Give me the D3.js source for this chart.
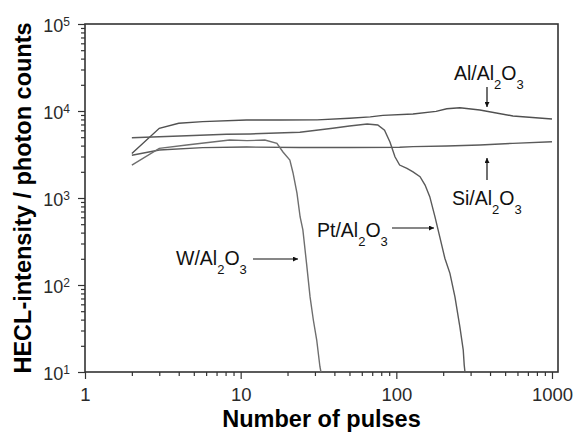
<!DOCTYPE html>
<html>
<head>
<meta charset="utf-8">
<script src="https://cdn.jsdelivr.net/npm/d3@7"></script>
<style>
  body { margin: 0; background: #fff; }
  svg { font-family: "Liberation Sans", Arial, sans-serif; }
</style>
</head>
<body>
<svg id="chart"></svg>
<script>
// tick values
const xTicks = [1, 10, 100, 1000];
const yTicks = [10, 100, 1000, 10000, 100000];

// Al/Al2O3
const alPulses = [2, 3, 4, 5.7, 10.9, 18, 31, 50, 68, 82, 128, 180, 211, 256, 344, 561, 1000];
const alCounts = [3250, 6330, 7230, 7540, 7880, 7880, 7900, 8260, 8550, 8900, 9240, 9900, 10600, 10900, 10260, 8770, 8090];

// Si/Al2O3
const siPulses = [2, 3, 5.7, 10.9, 24, 50, 105, 128, 211, 344, 561, 1000];
const siCounts = [3100, 3560, 3790, 3850, 3800, 3800, 3830, 3890, 3960, 4070, 4250, 4440];

// Pt/Al2O3
const ptPulses = [2, 4.5, 8.1, 11.5, 24, 39, 50, 65, 76, 84, 91, 98, 105, 117, 128, 142, 153, 164, 177, 190, 205, 221, 238, 256, 269, 273, 276];
const ptCounts = [4930, 5200, 5400, 5450, 5690, 6330, 6730, 7090, 6900, 6000, 4400, 2980, 2390, 2190, 2000, 1760, 1410, 1035, 610, 359, 203, 136, 73, 33, 18, 12, 10];

// W/Al2O3
const wPulses = [2, 3, 4.5, 8.5, 11, 14.3, 17.1, 18.7, 20.7, 21.7, 23, 24.1, 25.1, 26.5, 27.9, 29.3, 30.8, 32.3, 32.8];
const wCounts = [2390, 3720, 4070, 4640, 4560, 4640, 4250, 3380, 2730, 1940, 1140, 605, 429, 177, 73.5, 39.6, 23.3, 11.5, 10];

const margin = { top: 24, right: 16, bottom: 63, left: 85 },
  width = 574 - margin.left - margin.right,
  height = 435 - margin.top - margin.bottom;

const svg = d3.select("#chart")
  .attr("width", width + margin.left + margin.right)
  .attr("height", height + margin.top + margin.bottom);

const g = svg.append("g")
  .attr("transform", `translate(${margin.left},${margin.top})`);

const xScale = d3.scaleLog().domain([1, 1093]).range([0, width]);
const yScale = d3.scaleLog().domain([10, 1e5]).range([height, 0]);

const isPow10 = (v) => Math.abs(Math.log10(v) - Math.round(Math.log10(v))) < 1e-9;
const xMinor = xScale.ticks().filter((v) => !isPow10(v));
const yMinor = yScale.ticks().filter((v) => !isPow10(v));

const axisColor = "#333";

// minor ticks
g.append("g")
  .attr("transform", `translate(0,${height})`)
  .call(d3.axisBottom(xScale).tickValues(xMinor).tickSize(4).tickFormat(""));
g.append("g")
  .call(d3.axisLeft(yScale).tickValues(yMinor).tickSize(4).tickFormat(""));

// major ticks
const xAxis = g.append("g")
  .attr("transform", `translate(0,${height})`)
  .call(d3.axisBottom(xScale).tickValues(xTicks).tickSize(7).tickPadding(9).tickFormat(d3.format("d")));

const yAxis = g.append("g")
  .call(d3.axisLeft(yScale).tickValues(yTicks).tickSize(7).tickPadding(8).tickFormat(""));

yAxis.selectAll(".tick text")
  .attr("dy", "0.44em")
  .each(function(d) {
    const t = d3.select(this);
    t.append("tspan").text("10");
    t.append("tspan").attr("dy", "-0.5em").attr("font-size", 12).text(Math.round(Math.log10(d)));
  });

g.selectAll(".domain").remove();
g.selectAll(".tick line").attr("stroke", axisColor).attr("stroke-width", 1.2);
g.selectAll(".tick text")
  .attr("font-size", 18.5)
  .attr("fill", "#2a2a2a")
  .attr("font-family", "Liberation Sans, Arial, sans-serif");
yAxis.selectAll(".tick text").attr("font-size", 18);

// frame
g.append("rect")
  .attr("width", width)
  .attr("height", height)
  .attr("fill", "none")
  .attr("stroke", axisColor)
  .attr("stroke-width", 1.6);

// curves
const line = d3.line()
  .x((d) => xScale(d[0]))
  .y((d) => yScale(d[1]));

const series = [
  { pulses: alPulses, counts: alCounts, color: "#505050" },
  { pulses: siPulses, counts: siCounts, color: "#5a5a5a" },
  { pulses: ptPulses, counts: ptCounts, color: "#5a5a5a" },
  { pulses: wPulses, counts: wCounts, color: "#6e6e6e" }
];

g.selectAll("path.curve")
  .data(series)
  .join("path")
  .attr("class", "curve")
  .attr("d", (s) => line(s.pulses.map((p, i) => [p, s.counts[i]])))
  .attr("fill", "none")
  .attr("stroke", (s) => s.color)
  .attr("stroke-width", 1.4);

// axis titles
svg.append("text")
  .attr("x", margin.left + width / 2)
  .attr("y", 427)
  .attr("text-anchor", "middle")
  .attr("font-size", 23.5)
  .attr("font-weight", "bold")
  .text("Number of pulses");

svg.append("text")
  .attr("transform", `translate(31,${margin.top + height / 2}) rotate(-90)`)
  .attr("text-anchor", "middle")
  .attr("font-size", 23.5)
  .attr("font-weight", "bold")
  .text("HECL-intensity / photon counts");

// annotations
svg.append("defs").append("marker")
  .attr("id", "head")
  .attr("viewBox", "0 0 10 10")
  .attr("refX", 10)
  .attr("refY", 5)
  .attr("markerWidth", 8)
  .attr("markerHeight", 5)
  .attr("markerUnits", "userSpaceOnUse")
  .attr("orient", "auto")
  .append("path")
  .attr("d", "M0,0L10,5L0,10Z")
  .attr("fill", "#111");

function label(metal, x, y) {
  const t = svg.append("text")
    .attr("x", x)
    .attr("y", y)
    .attr("font-size", 19.5)
    .attr("fill", "#111");
  t.append("tspan").text(metal + "/Al");
  t.append("tspan").attr("dy", 9).attr("font-size", 13).text("2");
  t.append("tspan").attr("dy", -9).text("O");
  t.append("tspan").attr("dy", 9).attr("font-size", 13).text("3");
}

function arrow(x1, y1, x2, y2) {
  svg.append("line")
    .attr("x1", x1).attr("y1", y1)
    .attr("x2", x2).attr("y2", y2)
    .attr("stroke", "#111")
    .attr("stroke-width", 1.2)
    .attr("marker-end", "url(#head)");
}

label("Al", 454, 80);
arrow(487, 87, 487, 107);

label("Si", 452, 205);
arrow(487, 180, 487, 158);

label("Pt", 317, 237);
arrow(392, 228, 434, 228);

label("W", 176, 265);
arrow(253, 259, 298, 259);
</script>
</body>
</html>
